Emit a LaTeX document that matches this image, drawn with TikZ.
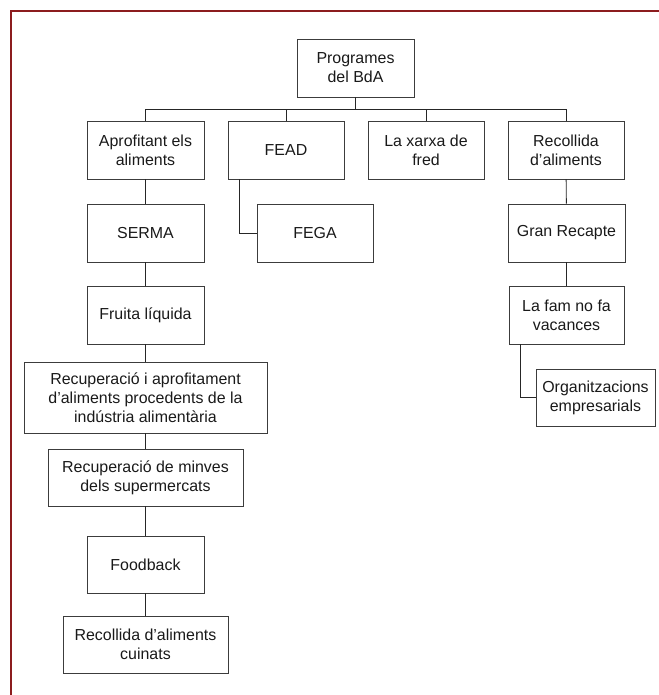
\documentclass[tikz,border=0pt]{standalone}
\usepackage{fontspec}
\setmainfont{Liberation Sans}
\usepackage{tikz}
\usetikzlibrary{positioning}
\usepackage{xcolor}
\definecolor{framered}{RGB}{140,28,30}
\definecolor{boxgray}{RGB}{60,60,60}

\begin{document}
\begin{tikzpicture}[x=1bp, y=-1bp,
        prog/.style={rectangle, draw=boxgray, line width=0.9bp, align=center, inner sep=0pt,
            minimum height=58bp, minimum width=117bp, text=black!90,
            font=\fontsize{16}{19}\selectfont},
        link/.style={draw=black!85, line width=0.9bp},
        frame/.style={draw=framered, line width=2.2bp}
    ]
        \useasboundingbox (0,0) rectangle (659,695);
        \draw[frame] (11,695) -- (11,11) -- (659,11);

        \node[prog] (root) at (355.5,68) {Programes\\del BdA};

        \node[prog] (apr) at (145.5,150) {Aprofitant els\\aliments};
        \node[prog, minimum width=116bp] (fead) at (286,150) {FEAD};
        \node[prog, minimum width=116bp] (xarxa) at (426,150) {La xarxa de\\fred};
        \node[prog, minimum width=116bp] (recoll) at (566,150) {Recollida\\d’aliments};

        \node[prog] (serma) at (145.5,233) {SERMA};
        \node[prog, minimum width=116bp] (fega) at (315,233) {FEGA};
        \node[prog] (gran) at (566.5,233) {Gran Recapte};

        \node[prog] (fruita) at (145.5,315) {Fruita líquida};
        \node[prog, minimum width=115bp] (fam) at (566.5,315) {La fam no fa\\vacances};
        \node[prog, minimum width=119bp, minimum height=57bp] (org) at (595.5,397.5) {Organitzacions\\empresarials};

        \node[prog, minimum width=243bp, minimum height=71bp] (indus) at (145.5,397.5)
            {Recuperació i aprofitament\\d’aliments procedents de la\\indústria alimentària};
        \node[prog, minimum width=195bp, minimum height=57bp] (minves) at (145.5,477.5)
            {Recuperació de minves\\dels supermercats};
        \node[prog, minimum height=57bp] (foodback) at (145.5,564.5) {Foodback};
        \node[prog, minimum width=165bp, minimum height=57bp] (cuinats) at (145.5,644.5)
            {Recollida d’aliments\\cuinats};

        % arbre principal
        \coordinate (bus) at (355.5,109);
        \draw[link] (root.south) -- (bus);
        \foreach \n in {apr,fead,xarxa,recoll}
            \draw[link] (bus) -| (\n.north);

        % columna esquerra
        \draw[link] (apr) -- (serma);
        \draw[link] (serma) -- (fruita);
        \draw[link] (fruita) -- (indus);
        \draw[link] (indus) -- (minves);
        \draw[link] (minves) -- (foodback);
        \draw[link] (foodback) -- (cuinats);

        % FEAD i recollida
        \draw[link] ([xshift=-47bp]fead.south) |- (fega.west);
        \draw[link] (recoll) -- (gran);
        \draw[link] (gran) -- (fam);
        \draw[link] ([xshift=-46bp]fam.south) |- (org.west);
    \end{tikzpicture}
\end{document}
